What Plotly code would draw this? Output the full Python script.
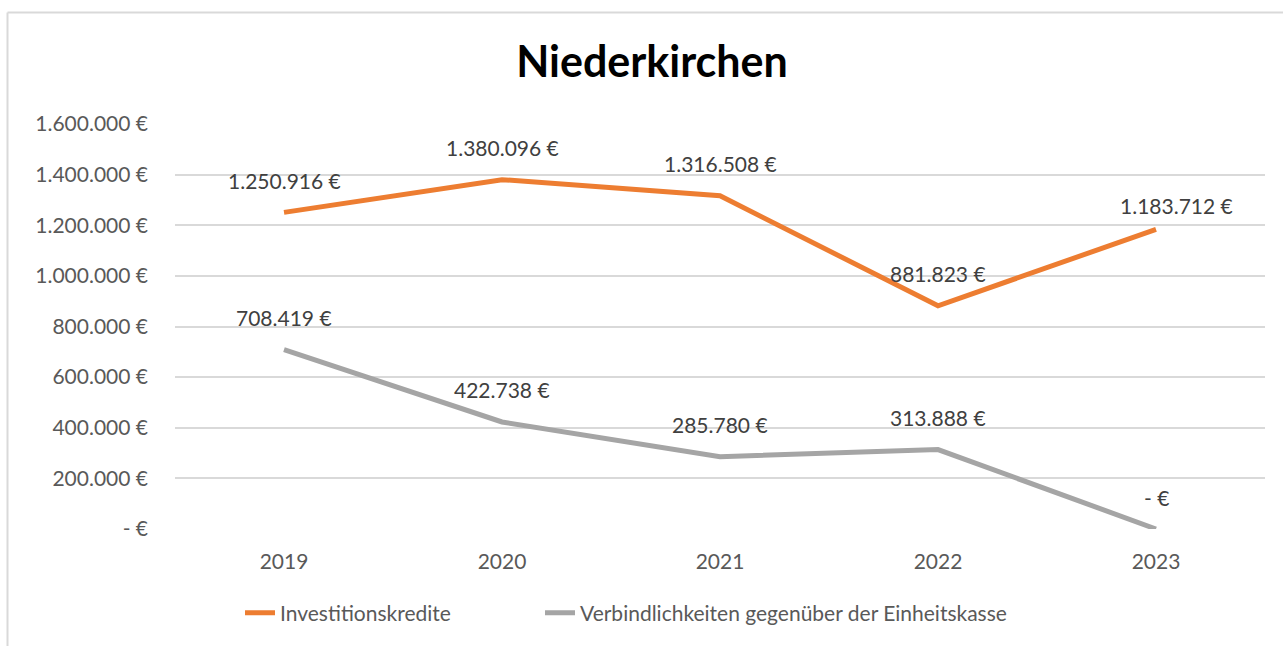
import plotly.graph_objects as go

# Chart data
years = ["2019", "2020", "2021", "2022", "2023"]
investitionskredite = [1250916, 1380096, 1316508, 881823, 1183712]
verbindlichkeiten = [708419, 422738, 285780, 313888, 0]
series_names = ["Investitionskredite", "Verbindlichkeiten gegenüber der Einheitskasse"]
y_ticks = [0, 200000, 400000, 600000, 800000, 1000000, 1200000, 1400000, 1600000]

ORANGE = "#ED7D31"
GRAY = "#A5A5A5"
TEXT = "#595959"
LABEL = "#404040"
FONT = "Lato"
FS = 21


def euro(v):
    # Excel accounting style: thousands with dots, zero shown as "- €"
    if v == 0:
        return "- €"
    return f"{v:,.0f}".replace(",", ".") + " €"


fig = go.Figure()
for name, values, color, leg in [
    (series_names[0], investitionskredite, ORANGE, "legend"),
    (series_names[1], verbindlichkeiten, GRAY, "legend2"),
]:
    fig.add_trace(go.Scatter(
        x=years, y=values, name=name, mode="lines",
        line=dict(color=color, width=5),
        hoverinfo="skip", legend=leg,
    ))

# Value labels above each point (category index used for x)
annotations = []
for s, values in enumerate((investitionskredite, verbindlichkeiten)):
    for i, v in enumerate(values):
        last_orange = (s == 0 and i == len(values) - 1)
        annotations.append(dict(
            x=i, y=v, text=euro(v), showarrow=False,
            xshift=20 if last_orange else 0,
            yshift=24 if last_orange else 32,
            xref="x", yref="y",
            font=dict(family=FONT, size=FS, color=LABEL),
        ))

# Frame around the chart area (left and top edges)
W, H = 1283, 646
L, R, T, B = 175, 18, 124, 117
pw, ph = W - L - R, H - T - B


def px(xp):
    return (xp - L) / pw


def py(yp):
    return (H - B - yp) / ph


shapes = [
    dict(type="line", xref="paper", yref="paper",
         x0=px(7.5), x1=px(7.5), y0=py(646), y1=py(12.5),
         line=dict(color="#D9D9D9", width=2)),
    dict(type="line", xref="paper", yref="paper",
         x0=px(7.5), x1=px(1283), y0=py(12.5), y1=py(12.5),
         line=dict(color="#D9D9D9", width=2)),
]

legend_style = dict(
    orientation="h", xanchor="left", y=py(613), yanchor="middle",
    font=dict(family=FONT, size=FS, color=TEXT),
)

fig.update_layout(
    width=W, height=H, autosize=False,
    margin=dict(l=L, r=R, t=T, b=B, autoexpand=False),
    paper_bgcolor="white", plot_bgcolor="white",
    title=dict(text="<b>Niederkirchen</b>", x=652 / W, xanchor="center",
               y=1 - 62 / H, yanchor="middle",
               font=dict(family=FONT, size=43, color="#000000")),
    font=dict(family=FONT, color=TEXT),
    xaxis=dict(
        type="category", range=[-0.5, 4.5],
        showgrid=False, showline=False, zeroline=False, ticks="",
        tickfont=dict(family=FONT, size=FS, color=TEXT),
        ticklabelstandoff=18,
    ),
    yaxis=dict(
        range=[0, 1600000], tickvals=y_ticks,
        ticktext=[euro(v) for v in y_ticks],
        showgrid=True, gridcolor="#D9D9D9", gridwidth=1.5,
        zeroline=False, showline=False, ticks="",
        tickfont=dict(family=FONT, size=FS, color=TEXT),
        ticklabelstandoff=26,
    ),
    legend=dict(x=px(240), **legend_style),
    legend2=dict(x=px(540), **legend_style),
    showlegend=True,
    annotations=annotations,
    shapes=shapes,
)

fig.write_html("out.html")
